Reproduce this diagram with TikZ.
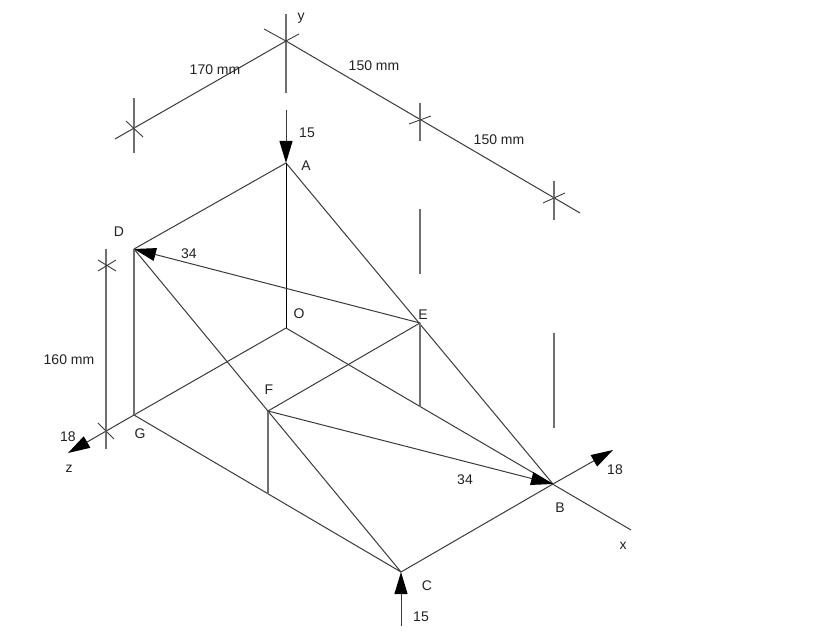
\documentclass[tikz,border=0pt]{standalone}
\usepackage{fontspec}
\setmainfont{Liberation Sans}
\usetikzlibrary{arrows.meta}
\definecolor{ln}{HTML}{3A3A3A}
\definecolor{vl}{HTML}{707070}
\definecolor{tx}{HTML}{222222}
\tikzset{
  edge/.style={draw=ln,line width=1pt},
  vert/.style={draw=vl,line width=1.4pt},
  dim/.style={draw=ln,line width=1pt},
  tick/.style={draw=ln,line width=0.9pt},
  force/.style={draw=ln,line width=1pt,-{Triangle[length=22pt,width=13pt,color=black]}},
  lab/.style={inner sep=0pt,text=tx,yshift=-0.8pt,font=\fontsize{14}{16}\selectfont}
}
\begin{document}
\begin{tikzpicture}[x=1pt,y=-1pt]
\useasboundingbox (0,0) rectangle (836,636);
% frame joints
\coordinate (A) at (286,163);
\coordinate (O) at (286,328);
\coordinate (D) at (134,249);
\coordinate (G) at (134,415);
\coordinate (E) at (420,323);
\coordinate (F) at (268,411);
\coordinate (B) at (553,484);
\coordinate (C) at (401,572);
\coordinate (Eb) at (420,406);
\coordinate (Fb) at (268,494);
% axes and free ends
\coordinate (T) at (286,41);
\coordinate (yt) at (286,14);
\coordinate (yb) at (286,93);
\coordinate (ya) at (286,110);
\coordinate (xe) at (631,530);
\coordinate (zt) at (68,453);
\coordinate (xt) at (613,450);
\coordinate (cb) at (401,626);
% dimension lines
\coordinate (L) at (134,128);
\coordinate (Le) at (115,139);
\coordinate (M) at (420,119);
\coordinate (R) at (554,198);
\coordinate (Re) at (580,213);
% frame
\draw[edge] (A) -- (D);
\draw[edge] (A) -- (B);
\draw[edge] (D) -- (C);
\draw[edge] (O) -- (G);
\draw[edge] (O) -- (xe);
\draw[edge] (G) -- (C);
\draw[edge] (C) -- (B);
\draw[edge] (E) -- (F);
\draw[draw=black,line width=1pt] (A) -- (O);
\draw[vert] (D) -- (G);
\draw[vert] (E) -- (Eb);
\draw[vert] (F) -- (Fb);
% forces
\draw[force] (ya) -- (A);
\draw[force] (cb) -- (C);
\draw[force] (E) -- (D);
\draw[force] (F) -- (B);
\draw[force] (G) -- (zt);
\draw[force] (B) -- (xt);
% y axis and top dimensions
\draw[vert] (yt) -- (yb);
\draw[dim] (Le) -- (T);
\draw[dim] (T) -- (Re);
\coordinate (ta) at (264,29); \coordinate (tb) at (299,34);
\draw[tick] (ta) -- (T);
\draw[tick] (T) -- (tb);
\coordinate (l1) at (134,98); \coordinate (l2) at (134,153);
\coordinate (l3) at (126,121); \coordinate (l4) at (143,137);
\draw[vert] (l1) -- (l2);
\draw[tick] (l3) -- (l4);
\coordinate (m1) at (420,103); \coordinate (m2) at (420,141);
\coordinate (m3) at (409,124); \coordinate (m4) at (431,116);
\draw[vert] (m1) -- (m2);
\draw[tick] (m3) -- (m4);
\coordinate (r1) at (554,181); \coordinate (r2) at (554,220);
\coordinate (r3) at (543,203); \coordinate (r4) at (565,193);
\draw[vert] (r1) -- (r2);
\draw[tick] (r3) -- (r4);
% broken projection lines
\coordinate (p1) at (420,209); \coordinate (p2) at (420,274);
\coordinate (p3) at (554,333); \coordinate (p4) at (554,428);
\draw[vert] (p1) -- (p2);
\draw[vert] (p3) -- (p4);
% left dimension
\coordinate (d1) at (106,249); \coordinate (d2) at (106,449);
\draw[vert] (d1) -- (d2);
\coordinate (c1) at (98,260); \coordinate (c2) at (116,271);
\coordinate (c3) at (98,271); \coordinate (c4) at (116,260);
\draw[tick] (c1) -- (c2);
\draw[tick] (c3) -- (c4);
\coordinate (c5) at (98,423); \coordinate (c6) at (114,439);
\draw[tick] (c5) -- (c6);
% labels
\node[lab] (ly) at (301,17) {y};
\node[lab] (l170) at (215,69) {170 mm};
\node[lab] (l150a) at (374,65) {150 mm};
\node[lab] (l150b) at (499,139) {150 mm};
\node[lab] (l15a) at (307,132) {15};
\node[lab] (lA) at (306,165) {A};
\node[lab] (lD) at (119,231) {D};
\node[lab] (l34a) at (189,253) {34};
\node[lab] (lO) at (299,313) {O};
\node[lab] (lE) at (423,314) {E};
\node[lab] (lF) at (269,389) {F};
\node[lab] (l160) at (69,359) {160 mm};
\node[lab] (l18a) at (68,436) {18};
\node[lab] (lG) at (140,433) {G};
\node[lab] (lz) at (69,468) {z};
\node[lab] (l34b) at (465,479) {34};
\node[lab] (l18b) at (615,469) {18};
\node[lab] (lB) at (560,507) {B};
\node[lab] (lx) at (623,545) {x};
\node[lab] (lC) at (427,585) {C};
\node[lab] (l15b) at (421,616) {15};
\end{tikzpicture}
\end{document}
